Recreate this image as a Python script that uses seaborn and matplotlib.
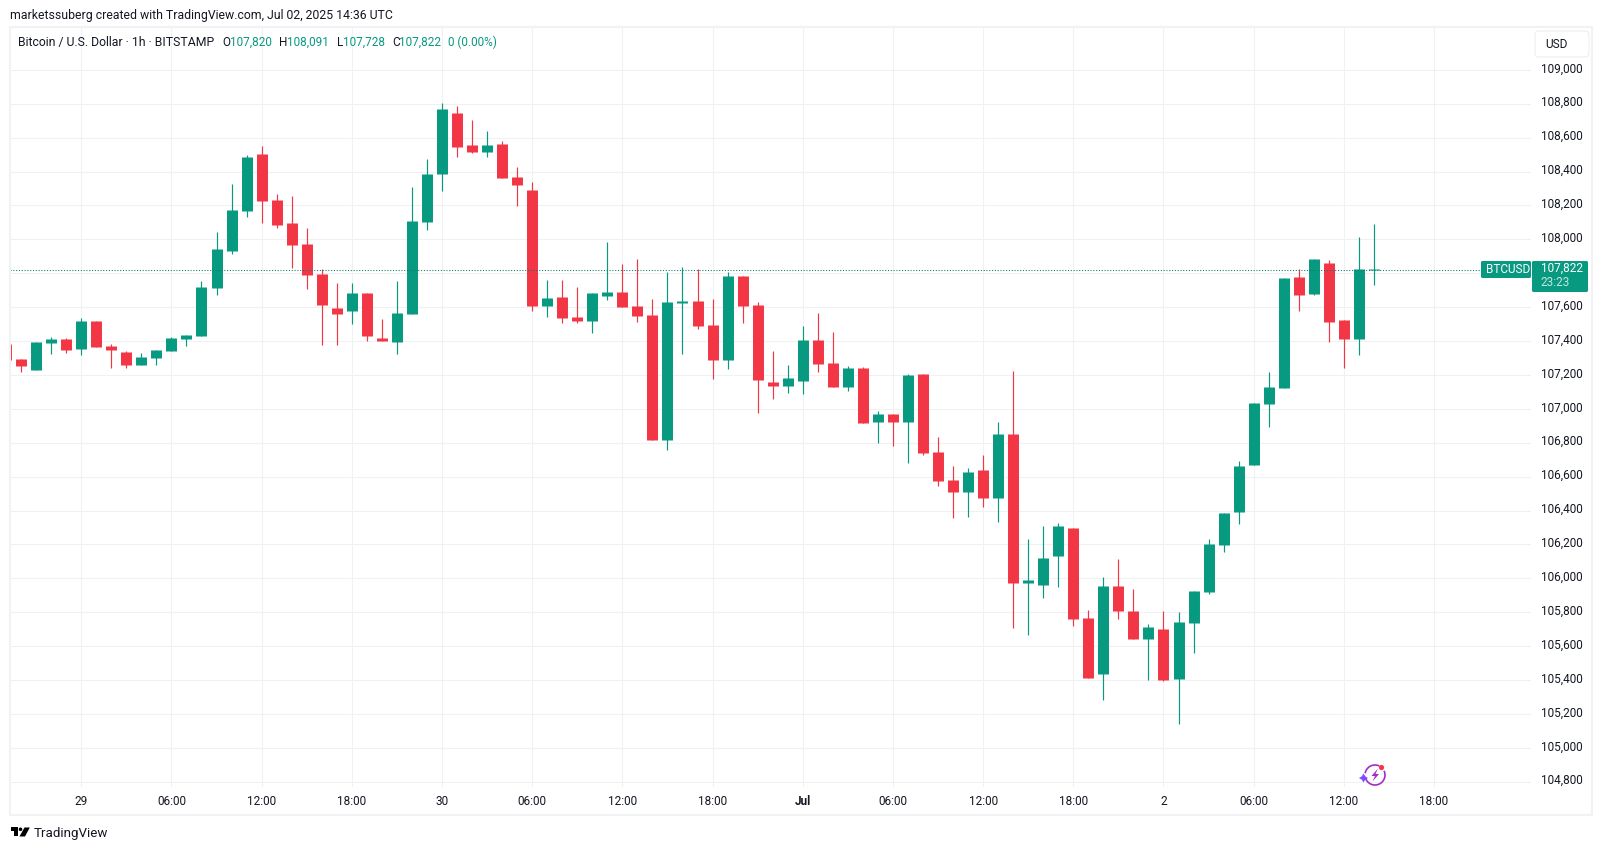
import matplotlib.pyplot as plt
import numpy as np
import pandas as pd
import seaborn as sns
from matplotlib.patches import Arc, Circle, FancyBboxPatch, Polygon, Rectangle
from matplotlib.transforms import Affine2D, ScaledTranslation

W, H = 1603, 850
GREEN = "#089981"
RED = "#F23645"
INK = "#131722"
GRID = "#f0f1f3"
FONT = "Roboto"
TEXT_SIZE = 8.5
HEADER_SIZE = 8.8

# hours counted from Jun 29 00:00
hours = list(range(-5, 87))
opens = [
    107382, 107294, 107229, 107388, 107412, 107353, 107518, 107370, 107335, 107258,
    107300, 107341, 107412, 107430, 107713, 107931, 108167, 108503, 108232, 108096,
    107972, 107795, 107595, 107577, 107683, 107418, 107394, 107559, 108102, 108385,
    108745, 108556, 108515, 108562, 108368, 108291, 107607, 107660, 107542, 107518,
    107665, 107689, 107607, 107553, 106816, 107624, 107636, 107494, 107288, 107783,
    107612, 107158, 107135, 107164, 107406, 107270, 107129, 107241, 106922, 106969,
    106922, 107205, 106745, 106580, 106509, 106639, 106474, 106851, 105972, 105960,
    106131, 106297, 105766, 105435, 105955, 105807, 105642, 105701, 105406, 105736,
    105919, 106196, 106391, 106668, 107028, 107123, 107778, 107677, 107860, 107524,
    107412, 107820,
]
highs = [
    107382, 107294, 107394, 107424, 107418, 107536, 107518, 107382, 107341, 107329,
    107347, 107424, 107435, 107754, 108043, 108326, 108497, 108551, 108267, 108255,
    108067, 107825, 107742, 107742, 107683, 107530, 107754, 108309, 108474, 108804,
    108787, 108704, 108639, 108580, 108427, 108338, 107760, 107760, 107719, 107683,
    107984, 107854, 107884, 107648, 107807, 107837, 107825, 107648, 107807, 107783,
    107630, 107341, 107258, 107488, 107565, 107453, 107252, 107247, 106987, 106969,
    107205, 107205, 106834, 106662, 106651, 106727, 106922, 107223, 106232, 106308,
    106326, 106297, 105813, 106008, 106114, 105937, 105730, 105807, 105801, 105925,
    106232, 106385, 106692, 107034, 107217, 107772, 107825, 107884, 107878, 107524,
    108014, 108091,
]
lows = [
    107288, 107217, 107229, 107323, 107329, 107317, 107365, 107241, 107241, 107258,
    107258, 107341, 107370, 107430, 107671, 107913, 108132, 108096, 108067, 107831,
    107707, 107376, 107376, 107500, 107400, 107400, 107323, 107559, 108055, 108285,
    108486, 108509, 108486, 108362, 108196, 107577, 107542, 107506, 107506, 107447,
    107642, 107600, 107512, 106816, 106757, 107323, 107471, 107176, 107235, 107506,
    106975, 107058, 107093, 107087, 107217, 107129, 107105, 106916, 106798, 106780,
    106680, 106727, 106544, 106356, 106362, 106421, 106332, 105707, 105665, 105884,
    105949, 105718, 105412, 105282, 105760, 105642, 105400, 105394, 105142, 105559,
    105907, 106155, 106320, 106668, 106893, 107123, 107577, 107671, 107394, 107241,
    107317, 107728,
]
closes = [
    107288, 107252, 107394, 107412, 107347, 107518, 107365, 107347, 107258, 107306,
    107347, 107418, 107435, 107719, 107943, 108173, 108486, 108226, 108084, 107966,
    107790, 107612, 107559, 107683, 107430, 107400, 107565, 108108, 108385, 108769,
    108545, 108515, 108556, 108362, 108320, 107607, 107654, 107536, 107518, 107683,
    107689, 107600, 107548, 106816, 107630, 107636, 107488, 107288, 107783, 107607,
    107170, 107135, 107182, 107406, 107264, 107129, 107241, 106916, 106969, 106922,
    107199, 106739, 106574, 106509, 106627, 106474, 106851, 105972, 105990, 106120,
    106308, 105760, 105412, 105955, 105807, 105642, 105713, 105400, 105742, 105925,
    106202, 106385, 106663, 107034, 107129, 107772, 107671, 107884, 107512, 107412,
    107825, 107822,
]

tick_hours = [0, 6, 12, 18, 24, 30, 36, 42, 48, 54, 60, 66, 72, 78, 84, 90]
tick_labels = ["29", "06:00", "12:00", "18:00", "30", "06:00", "12:00", "18:00",
               "Jul", "06:00", "12:00", "18:00", "2", "06:00", "12:00", "18:00"]
price_ticks = list(range(104800, 109001, 200))
hidden_price = 107800  # sits under the last price tag

last_close = closes[-1]

candles = pd.DataFrame({"hour": hours, "open": opens, "high": highs, "low": lows, "close": closes})
candles["side"] = np.where(candles["close"] >= candles["open"], "up", "down")
candles["top"] = candles[["open", "close"]].max(axis=1)
candles["bottom"] = candles[["open", "close"]].min(axis=1)
# TradingView never draws a body thinner than a pixel
thin = candles["top"] - candles["bottom"] < 6
candles.loc[thin, "top"] = candles.loc[thin, "bottom"] + 6

wicks = candles.melt(id_vars=["hour", "side"], value_vars=["high", "low"], value_name="price")
bodies = candles.melt(id_vars=["hour", "side"], value_vars=["top", "bottom"], value_name="price")

sns.set_theme(style="white")
plt.rcParams["font.family"] = [FONT, "DejaVu Sans"]

fig = plt.figure(figsize=(W / 100, H / 100), dpi=100)
ax = fig.add_axes([10 / W, 1 - 787 / H, 1521 / W, 759 / H])
px = Affine2D().scale(1 / W, -1 / H).translate(0, 1) + fig.transFigure

palette = {"up": GREEN, "down": RED}
sns.lineplot(data=wicks, x="hour", y="price", hue="side", units="hour", estimator=None,
             palette=palette, linewidth=0.85, legend=False, solid_capstyle="butt", ax=ax)
sns.lineplot(data=bodies, x="hour", y="price", hue="side", units="hour", estimator=None,
             palette=palette, linewidth=7.9, legend=False, solid_capstyle="butt", ax=ax)
ax.axhline(last_close, color="#067a67", linewidth=0.75, linestyle=(0, (1, 1.7)), zorder=5)

ax.set_xlim(-4.74, 96.45)
ax.set_ylim(104769, 109247)
ax.set_xticks(tick_hours, tick_labels)
ax.set_yticks(price_ticks, ["" if p == hidden_price else f"{p:,}" for p in price_ticks])
ax.yaxis.tick_right()
ax.set_xlabel("")
ax.set_ylabel("")
ax.tick_params(axis="both", length=0, labelsize=TEXT_SIZE, labelcolor=INK)
ax.tick_params(axis="x", pad=6)
ax.tick_params(axis="y", pad=7)
ax.get_xticklabels()[8].set_fontweight("bold")
lift = ScaledTranslation(0, 2.5 / 100, fig.dpi_scale_trans)
for label in ax.get_yticklabels():
    label.set_transform(label.get_transform() + lift)
ax.grid(True, color=GRID, linewidth=0.8)
ax.set_axisbelow(True)
sns.despine(ax=ax, left=True, bottom=True, top=True, right=True)

# chart frame
fig.add_artist(Rectangle((10, 27), 1582, 788, transform=px, fill=False, edgecolor="#f1f2f4", linewidth=1.5))

# header rows
fig.text(10 / W, 1 - 15 / H, "marketssuberg created with TradingView.com, Jul 02, 2025 14:36 UTC",
         fontsize=HEADER_SIZE, color=INK, va="center")
fig.text(18 / W, 1 - 42.5 / H, "Bitcoin / U.S. Dollar · 1h · BITSTAMP", fontsize=HEADER_SIZE, color=INK, va="center")
ohlc_row = [(222, "O", INK), (230, "107,820", GREEN), (279, "H", INK), (287, "108,091", GREEN),
            (337, "L", INK), (343, "107,728", GREEN), (392, "C", INK), (399, "107,822", GREEN),
            (448, "0 (0.00%)", GREEN)]
for x, label, colour in ohlc_row:
    fig.text(x / W, 1 - 42.5 / H, label, fontsize=TEXT_SIZE, color=colour, va="center")

# currency button
fig.add_artist(FancyBboxPatch((1537, 33), 50, 22, boxstyle="round,pad=2,rounding_size=4", transform=px,
                              facecolor="white", edgecolor="#eceef2", linewidth=0.8))
fig.text(1545 / W, 1 - 44 / H, "USD", fontsize=8.6, color=INK, va="center")

# last price tags
fig.add_artist(FancyBboxPatch((1482, 262), 48, 15, boxstyle="round,pad=1,rounding_size=1.5", transform=px,
                              facecolor=GREEN, edgecolor="none"))
fig.add_artist(FancyBboxPatch((1533, 262), 54, 29, boxstyle="round,pad=1,rounding_size=1.5", transform=px,
                              facecolor=GREEN, edgecolor="none"))
fig.text(1486 / W, 1 - 269.5 / H, "BTCUSD", fontsize=TEXT_SIZE, color="white", va="center")
fig.text(1540.5 / W, 1 - 268.5 / H, f"{last_close:,}", fontsize=TEXT_SIZE, color="white", va="center")
fig.text(1540.5 / W, 1 - 283 / H, "23:23", fontsize=TEXT_SIZE, color="#c3e6df", va="center")

# TradingView logo
fig.add_artist(Polygon([(10.5, 827.5), (17.5, 827.5), (17.5, 836.5), (14, 836.5), (14, 831), (10.5, 831)],
                       transform=px, facecolor="black", edgecolor="none"))
fig.add_artist(Circle((20.5, 829.3), 1.8, transform=px, facecolor="black", edgecolor="none"))
fig.add_artist(Polygon([(24.5, 827.5), (29.8, 827.5), (25, 836.5), (19.5, 836.5)],
                       transform=px, facecolor="black", edgecolor="none"))
fig.text(34 / W, 1 - 833 / H, "TradingView", fontsize=9.6, color=INK, va="center")

# spark icon near the time axis, angles run clockwise because px is y-down
fig.add_artist(Arc((1375, 775), 20, 20, theta1=-25, theta2=160, transform=px, edgecolor="#a32cc4", linewidth=1.2))
fig.add_artist(Arc((1375, 775), 20, 20, theta1=190, theta2=295, transform=px, edgecolor="#a32cc4", linewidth=1.2))
fig.add_artist(Polygon([(1378, 768.5), (1371.5, 776), (1375, 776), (1372.5, 781.5), (1379, 774), (1375.5, 774)],
                       transform=px, facecolor="#a32cc4", edgecolor="none"))
fig.add_artist(Polygon([(1363.5, 773.5), (1365.2, 776.3), (1368, 778), (1365.2, 779.7), (1363.5, 782.5),
                        (1361.8, 779.7), (1359, 778), (1361.8, 776.3)],
                       transform=px, facecolor="#7c4dff", edgecolor="none"))
fig.add_artist(Circle((1381.5, 767.5), 2.6, transform=px, facecolor=RED, edgecolor="none"))

fig.savefig("out.png", dpi=100)
